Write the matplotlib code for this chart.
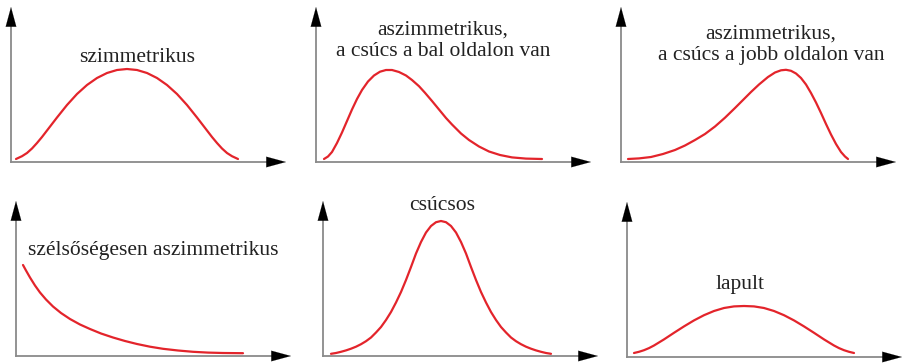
import numpy as np
import matplotlib
matplotlib.use("Agg")
import matplotlib.pyplot as plt

# ---------- Görbék (vízszintes hely, magasság) ----------
szim_x = [5, 11, 16, 21, 26, 31, 36, 46, 56, 66, 76, 86, 96, 106, 116,
          126, 136, 146, 156, 166, 176, 186, 196, 201, 206, 211, 216, 221, 227]
szim_y = [3, 5.8, 9, 13.5, 19, 25, 31.5, 44.5, 57, 68, 77, 84, 89, 92, 93,
          92, 89, 84, 77, 68, 57, 44.5, 31.5, 25, 19, 13.5, 9, 5.8, 3]

bal_x = [8, 12, 16, 21, 26, 31, 36, 41, 46, 52, 58, 64, 70, 76, 83, 90, 96, 103,
         109, 116, 123, 130, 136, 145, 153, 163, 173, 184, 196, 210, 226]
bal_y = [3, 5.5, 10, 19, 29.5, 41, 52.5, 63, 72, 80.5, 86.5, 90.3, 92, 92, 90, 86.5, 82, 75.8,
         69.2, 61, 52.5, 44, 37.5, 28.5, 22, 15.5, 10.5, 7, 4.6, 3.4, 3]

jobb_x = [7, 18, 30, 42, 54, 64, 74, 84, 94, 104, 114, 122, 130, 138, 147, 154,
          160, 165, 170, 175, 180, 185, 190, 195, 200, 205, 210, 215, 220, 224, 227]
jobb_y = [3, 3.6, 5, 8, 12, 16.5, 22, 28, 35.5, 44.3, 54, 62, 70, 77.5, 85, 89.5,
          91.7, 92.2, 91.2, 88.5, 84, 77.5, 69, 59.5, 49, 38, 27.5, 18, 10, 5.5, 3]

szels_x = [7, 10, 14, 19, 24, 30, 37, 45, 54, 64, 74, 85, 97, 109, 121, 134,
           147, 162, 177, 192, 207, 227]
szels_y = [91, 85.5, 78.5, 70.5, 63.5, 56.5, 49.5, 43, 37, 31.5, 27, 22.5, 18.5, 15, 12, 9.3,
           7.2, 5.5, 4.2, 3.4, 3, 2.8]

csucs_x = [8, 13, 18, 23, 28, 33, 38, 43, 48, 53, 58, 63, 68, 73, 78, 83, 88, 93, 98, 103,
           108, 113, 118, 123, 128, 133, 138, 143, 148, 153, 158, 163, 168, 173, 178, 183,
           188, 193, 198, 203, 208, 213, 218, 223, 228]
csucs_y = [2.2, 3, 4.2, 5.6, 7.3, 9.3, 11.8, 14.8, 18.5, 23.5, 29, 36, 44, 53.5, 64, 76,
           89, 102.5, 114, 123.5, 130, 133.8, 135, 133.8, 130, 123.5, 114, 102.5, 89, 76,
           64, 53.5, 44, 36, 29, 23.5, 18.5, 14.8, 11.8, 9.3, 7.3, 5.6, 4.2, 3, 2.2]

lap_x = [7, 12, 17, 22, 27, 37, 47, 57, 67, 77, 87, 97, 107, 117,
         127, 137, 147, 157, 167, 177, 187, 197, 207, 212, 217, 222, 227]
lap_y = [4, 5.2, 6.8, 8.9, 11.5, 17.6, 24.2, 30.6, 36.6, 41.8, 46, 49, 50.6, 51,
         50.6, 49, 46, 41.8, 36.6, 30.6, 24.2, 17.6, 11.5, 8.9, 6.8, 5.2, 4]

# ---------- Feliratok ----------
cimkek = [
    "szimmetrikus",
    "aszimmetrikus,\na csúcs a bal oldalon van",
    "aszimmetrikus,\na csúcs a jobb oldalon van",
    "szélsőségesen aszimmetrikus",
    "csúcsos",
    "lapult",
]
cimke_pos = [(126, 105), (127, 121), (150, 117), (137, 106), (119, 151), (113, 72)]

gorbek = [(szim_x, szim_y), (bal_x, bal_y), (jobb_x, jobb_y),
          (szels_x, szels_y), (csucs_x, csucs_y), (lap_x, lap_y)]

# panelek origója képpontban (bal felső sarokhoz mérve)
origok = [(11, 162), (316, 162), (621, 162), (16, 356), (323, 356), (627, 357)]

W, H = 902, 364
TENGELY_X, TENGELY_Y = 275, 155

fig = plt.figure(figsize=(W / 100, H / 100), dpi=100)

for (gx, gy), cimke, (tx, ty), (ox, oy) in zip(gorbek, cimkek, cimke_pos, origok):
    ax = fig.add_axes([ox / W, (H - oy) / H, TENGELY_X / W, TENGELY_Y / H])
    ax.set_xlim(0, TENGELY_X)
    ax.set_ylim(0, TENGELY_Y)
    ax.axis("off")

    # tengelyek: szürke vonal, fekete nyílhegy
    ax.plot([0, TENGELY_X - 10], [0, 0], color="#8a8a8a", lw=1.3, clip_on=False)
    ax.plot([0, 0], [0, TENGELY_Y - 10], color="#8a8a8a", lw=1.3, clip_on=False)
    nyil = dict(arrowstyle="-|>,head_length=1.4,head_width=0.38", color="black", lw=0.1,
                shrinkA=0, shrinkB=0)
    ax.annotate("", xy=(TENGELY_X, 0), xytext=(TENGELY_X - 18, 0),
                arrowprops=nyil, annotation_clip=False)
    ax.annotate("", xy=(0, TENGELY_Y), xytext=(0, TENGELY_Y - 18),
                arrowprops=nyil, annotation_clip=False)

    ax.plot(gx, gy, color="#e3242b", lw=1.6, solid_capstyle="round",
            solid_joinstyle="round", clip_on=False)

    ax.text(tx, ty, cimke, ha="center", va="center", fontsize=15.5,
            family="Liberation Serif", color="#222222", linespacing=1.15,
            clip_on=False)

fig.savefig("out.png", dpi=100)
